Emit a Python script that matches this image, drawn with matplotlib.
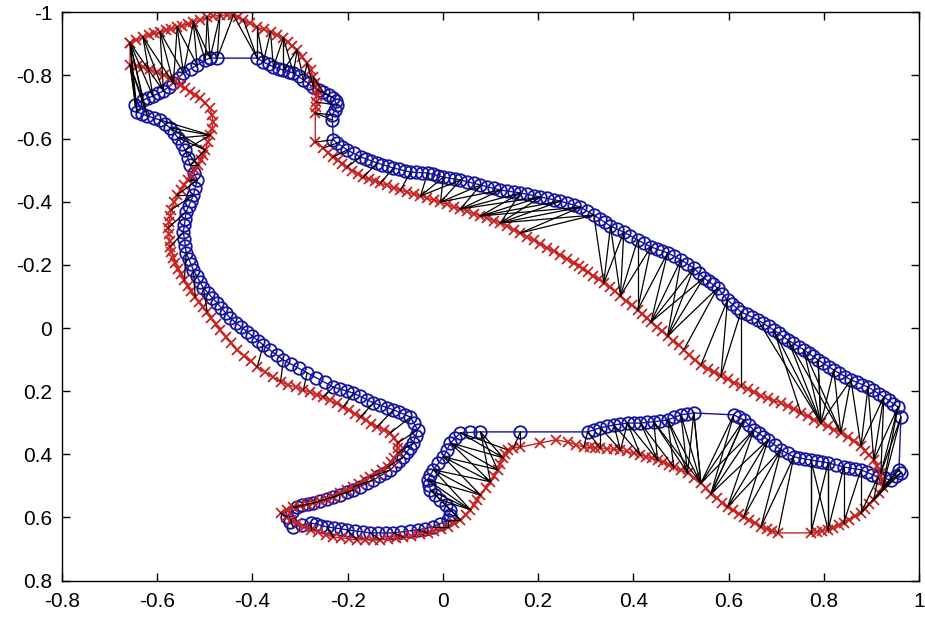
import matplotlib
matplotlib.use("Agg")
import matplotlib.pyplot as plt

# shape contour (blue circles), key points traced round the bird
blue_x = [-0.489, -0.474, -0.390, -0.377, -0.356, -0.335, -0.314, -0.293, -0.272, -0.251,
          -0.230, -0.222, -0.232, -0.232, -0.230, -0.222, -0.201, -0.173, -0.138, -0.104,
          -0.068, -0.032, 0.001, 0.037, 0.079, 0.121, 0.163, 0.205, 0.247, 0.289,
          0.317, 0.352, 0.380, 0.409, 0.437, 0.472, 0.500, 0.527, 0.548, 0.577,
          0.598, 0.626, 0.661, 0.695, 0.725, 0.758, 0.788, 0.821, 0.857, 0.893,
          0.926, 0.956, 0.962, 0.958, 0.962, 0.941, 0.914, 0.878, 0.842, 0.809,
          0.773, 0.737, 0.710, 0.683, 0.653, 0.632, 0.611, 0.527, 0.500, 0.472,
          0.443, 0.415, 0.388, 0.359, 0.331, 0.304, 0.163, 0.079, 0.037, 0.016,
          0.001, -0.020, -0.032, -0.026, -0.005, 0.016, 0.010, -0.020, -0.053, -0.104,
          -0.152, -0.201, -0.243, -0.278, -0.314, -0.327, -0.306, -0.272, -0.230, -0.188,
          -0.146, -0.110, -0.083, -0.062, -0.053, -0.068, -0.104, -0.146, -0.188, -0.230,
          -0.285, -0.335, -0.377, -0.411, -0.447, -0.474, -0.503, -0.524, -0.539, -0.545,
          -0.539, -0.524, -0.516, -0.531, -0.541, -0.556, -0.573, -0.594, -0.621, -0.642,
          -0.646, -0.630, -0.609, -0.587, -0.566, -0.545, -0.516, -0.499]
blue_y = [-0.855, -0.855, -0.855, -0.843, -0.827, -0.817, -0.808, -0.786, -0.763, -0.748,
          -0.729, -0.706, -0.675, -0.659, -0.596, -0.586, -0.564, -0.542, -0.523, -0.507,
          -0.494, -0.491, -0.478, -0.469, -0.453, -0.437, -0.428, -0.415, -0.402, -0.383,
          -0.358, -0.323, -0.304, -0.279, -0.257, -0.238, -0.216, -0.190, -0.159, -0.127,
          -0.089, -0.051, -0.026, 0.006, 0.038, 0.069, 0.101, 0.133, 0.164, 0.187,
          0.218, 0.250, 0.282, 0.449, 0.459, 0.481, 0.472, 0.449, 0.440, 0.427,
          0.418, 0.408, 0.386, 0.354, 0.323, 0.291, 0.275, 0.269, 0.275, 0.291,
          0.297, 0.301, 0.301, 0.307, 0.316, 0.329, 0.329, 0.329, 0.332, 0.364,
          0.408, 0.449, 0.481, 0.513, 0.544, 0.576, 0.608, 0.630, 0.639, 0.649,
          0.649, 0.639, 0.630, 0.617, 0.630, 0.598, 0.567, 0.554, 0.535, 0.513,
          0.481, 0.449, 0.408, 0.364, 0.323, 0.282, 0.259, 0.237, 0.206, 0.187,
          0.142, 0.101, 0.054, 0.012, -0.032, -0.079, -0.127, -0.184, -0.238, -0.304,
          -0.368, -0.421, -0.469, -0.516, -0.564, -0.602, -0.634, -0.659, -0.672, -0.684,
          -0.706, -0.722, -0.735, -0.751, -0.776, -0.808, -0.833, -0.849]

# the other sampled blue points lying on the same outline
blue_more_x = [-0.366, -0.345, -0.324, -0.303, -0.282, -0.261, -0.240, -0.225, -0.227,
               -0.211, -0.187, -0.161, -0.150, -0.127, -0.115, -0.092, -0.080, -0.056, -0.044,
               -0.021, -0.010, 0.013, 0.025, 0.051, 0.065, 0.093, 0.107, 0.135, 0.149,
               0.177, 0.191, 0.219, 0.233, 0.261, 0.275, 0.303, 0.329, 0.340, 0.366,
               0.394, 0.423, 0.449, 0.460, 0.486, 0.513, 0.537, 0.558, 0.567, 0.587,
               0.607, 0.617, 0.638, 0.649, 0.672, 0.684, 0.705, 0.715, 0.736, 0.747,
               0.768, 0.778, 0.799, 0.810, 0.833, 0.845, 0.869, 0.881, 0.904, 0.915,
               0.936, 0.946, 0.951, 0.928, 0.902, 0.890, 0.866, 0.854, 0.826, 0.797,
               0.785, 0.761, 0.749, 0.724, 0.697, 0.673, 0.663, 0.642, 0.621, 0.513,
               0.486, 0.457, 0.429, 0.401, 0.373, 0.345, 0.317, 0.058, 0.026, 0.008,
               -0.010, -0.026, -0.030, -0.016, 0.006, 0.014, -0.005, -0.037, -0.070, -0.087,
               -0.120, -0.136, -0.168, -0.185, -0.215, -0.229, -0.255, -0.266, -0.296, -0.322,
               -0.317, -0.295, -0.283, -0.258, -0.244, -0.216, -0.202, -0.174, -0.160, -0.134,
               -0.122, -0.101, -0.092, -0.076, -0.069, -0.057, -0.060, -0.080, -0.092, -0.118,
               -0.132, -0.160, -0.174, -0.202, -0.216, -0.248, -0.266, -0.302, -0.318, -0.349,
               -0.363, -0.388, -0.400, -0.423, -0.435, -0.456, -0.465, -0.484, -0.494, -0.510,
               -0.517, -0.529, -0.534, -0.541, -0.543, -0.543, -0.541, -0.534, -0.529, -0.520,
               -0.523, -0.536, -0.548, -0.564, -0.583, -0.607, -0.631, -0.619, -0.598, -0.576,
               -0.555, -0.530]
blue_more_y = [-0.835, -0.822, -0.812, -0.797, -0.775, -0.755, -0.738, -0.718, -0.690,
               -0.575, -0.553, -0.536, -0.529, -0.518, -0.512, -0.503, -0.498, -0.493, -0.492,
               -0.487, -0.482, -0.475, -0.472, -0.464, -0.458, -0.448, -0.442, -0.434, -0.431,
               -0.424, -0.419, -0.411, -0.406, -0.396, -0.389, -0.370, -0.346, -0.335, -0.313,
               -0.291, -0.268, -0.251, -0.244, -0.227, -0.203, -0.174, -0.148, -0.138, -0.108,
               -0.076, -0.064, -0.043, -0.034, -0.015, -0.005, 0.017, 0.027, 0.048, 0.059,
               0.080, 0.090, 0.112, 0.122, 0.143, 0.154, 0.172, 0.179, 0.197, 0.208,
               0.229, 0.240, 0.470, 0.476, 0.464, 0.457, 0.446, 0.443, 0.434, 0.424,
               0.421, 0.415, 0.411, 0.397, 0.370, 0.344, 0.333, 0.307, 0.283, 0.272,
               0.283, 0.294, 0.299, 0.301, 0.304, 0.311, 0.322, 0.328, 0.348, 0.386,
               0.429, 0.465, 0.497, 0.529, 0.560, 0.592, 0.620, 0.635, 0.642, 0.645,
               0.649, 0.649, 0.646, 0.642, 0.636, 0.633, 0.626, 0.621, 0.623, 0.614,
               0.582, 0.562, 0.558, 0.548, 0.541, 0.528, 0.520, 0.502, 0.492, 0.470,
               0.460, 0.435, 0.422, 0.393, 0.379, 0.343, 0.302, 0.274, 0.267, 0.252,
               0.244, 0.227, 0.216, 0.200, 0.193, 0.172, 0.157, 0.128, 0.115, 0.085,
               0.070, 0.040, 0.026, -0.003, -0.017, -0.048, -0.063, -0.095, -0.111, -0.146,
               -0.165, -0.202, -0.220, -0.260, -0.282, -0.325, -0.346, -0.386, -0.403, -0.445,
               -0.492, -0.540, -0.583, -0.618, -0.646, -0.665, -0.678, -0.728, -0.743, -0.763,
               -0.792, -0.820]

# target contour (red crosses), key points
red_x = [-0.657, -0.630, -0.594, -0.558, -0.524, -0.495, -0.468, -0.440, -0.419, -0.390,
         -0.362, -0.335, -0.306, -0.285, -0.272, -0.264, -0.266, -0.268, -0.268, -0.251,
         -0.230, -0.201, -0.167, -0.131, -0.089, -0.047, -0.005, 0.037, 0.079, 0.121,
         0.163, 0.205, 0.247, 0.275, 0.304, 0.338, 0.373, 0.409, 0.437, 0.472,
         0.506, 0.542, 0.584, 0.626, 0.668, 0.710, 0.752, 0.794, 0.836, 0.878,
         0.905, 0.920, 0.924, 0.905, 0.878, 0.842, 0.809, 0.773, 0.704, 0.668,
         0.632, 0.598, 0.563, 0.542, 0.514, 0.485, 0.451, 0.415, 0.373, 0.331,
         0.296, 0.262, 0.237, 0.205, 0.163, 0.148, 0.136, 0.127, 0.115, 0.100,
         0.079, 0.058, 0.037, 0.010, -0.032, -0.083, -0.131, -0.180, -0.230, -0.278,
         -0.320, -0.341, -0.314, -0.272, -0.230, -0.188, -0.152, -0.116, -0.095, -0.095,
         -0.110, -0.138, -0.173, -0.209, -0.251, -0.293, -0.341, -0.390, -0.432, -0.468,
         -0.495, -0.520, -0.543, -0.562, -0.573, -0.577, -0.571, -0.558, -0.535, -0.514,
         -0.499, -0.489, -0.482, -0.489, -0.510, -0.531, -0.552, -0.573, -0.600, -0.630,
         -0.657]
red_y = [-0.903, -0.922, -0.938, -0.953, -0.969, -0.985, -0.991, -0.991, -0.976, -0.953,
         -0.938, -0.919, -0.881, -0.839, -0.795, -0.754, -0.716, -0.681, -0.589, -0.570,
         -0.542, -0.510, -0.478, -0.459, -0.437, -0.418, -0.399, -0.377, -0.355, -0.333,
         -0.301, -0.266, -0.231, -0.206, -0.178, -0.143, -0.102, -0.057, -0.019, 0.025,
         0.069, 0.117, 0.152, 0.183, 0.215, 0.237, 0.269, 0.301, 0.332, 0.373,
         0.418, 0.459, 0.503, 0.544, 0.586, 0.617, 0.639, 0.649, 0.649, 0.630,
         0.598, 0.567, 0.525, 0.491, 0.459, 0.440, 0.418, 0.402, 0.386, 0.380,
         0.377, 0.361, 0.354, 0.364, 0.377, 0.380, 0.386, 0.411, 0.449, 0.487,
         0.529, 0.576, 0.608, 0.630, 0.649, 0.662, 0.671, 0.671, 0.662, 0.639,
         0.608, 0.586, 0.567, 0.554, 0.535, 0.503, 0.472, 0.440, 0.396, 0.364,
         0.332, 0.313, 0.282, 0.250, 0.218, 0.196, 0.171, 0.123, 0.069, 0.006,
         -0.051, -0.098, -0.152, -0.206, -0.257, -0.317, -0.374, -0.421, -0.469, -0.516,
         -0.564, -0.611, -0.653, -0.697, -0.729, -0.748, -0.770, -0.792, -0.811, -0.827,
         -0.833]

# the other sampled red points lying on the same outline
red_more_x = [-0.644, -0.618, -0.606, -0.582, -0.570, -0.547, -0.535, -0.510, -0.482, -0.454,
              -0.430, -0.405, -0.376, -0.349, -0.325, -0.316, -0.296, -0.278, -0.268, -0.265,
              -0.267, -0.241, -0.220, -0.211, -0.190, -0.178, -0.155, -0.143, -0.117, -0.103,
              -0.075, -0.061, -0.033, -0.019, 0.009, 0.023, 0.051, 0.065, 0.093, 0.107,
              0.135, 0.149, 0.177, 0.191, 0.219, 0.233, 0.261, 0.285, 0.294, 0.315,
              0.327, 0.350, 0.361, 0.385, 0.397, 0.418, 0.428, 0.449, 0.460, 0.483,
              0.495, 0.518, 0.530, 0.556, 0.570, 0.598, 0.612, 0.640, 0.654, 0.682,
              0.696, 0.724, 0.738, 0.766, 0.780, 0.808, 0.822, 0.850, 0.864, 0.887,
              0.896, 0.912, 0.922, 0.915, 0.896, 0.887, 0.866, 0.854, 0.831, 0.820,
              0.797, 0.785, 0.692, 0.680, 0.656, 0.644, 0.621, 0.609, 0.586, 0.575,
              0.553, 0.528, 0.500, 0.474, 0.462, 0.439, 0.427, 0.401, 0.387, 0.359,
              0.345, 0.319, 0.308, 0.279, 0.131, 0.121, 0.108, 0.090, 0.072, 0.065,
              0.048, 0.024, -0.004, -0.018, -0.049, -0.066, -0.099, -0.115, -0.147, -0.164,
              -0.197, -0.213, -0.246, -0.262, -0.292, -0.306, -0.330, -0.328, -0.300, -0.286,
              -0.258, -0.244, -0.216, -0.202, -0.176, -0.164, -0.140, -0.128, -0.109, -0.102,
              -0.095, -0.102, -0.124, -0.150, -0.161, -0.185, -0.197, -0.223, -0.237, -0.265,
              -0.279, -0.309, -0.325, -0.357, -0.374, -0.404, -0.418, -0.444, -0.456, -0.477,
              -0.486, -0.503, -0.512, -0.528, -0.535, -0.549, -0.556, -0.566, -0.570, -0.574,
              -0.576, -0.576, -0.573, -0.565, -0.550, -0.543, -0.528, -0.521, -0.509, -0.504,
              -0.494, -0.485, -0.485, -0.499, -0.520, -0.541, -0.562, -0.586, -0.615, -0.643]
red_more_y = [-0.913, -0.927, -0.933, -0.943, -0.948, -0.958, -0.964, -0.977, -0.988, -0.991,
              -0.984, -0.965, -0.946, -0.929, -0.907, -0.894, -0.860, -0.817, -0.775, -0.735,
              -0.699, -0.556, -0.531, -0.521, -0.499, -0.489, -0.472, -0.465, -0.452, -0.444,
              -0.431, -0.424, -0.412, -0.405, -0.392, -0.384, -0.370, -0.362, -0.348, -0.340,
              -0.322, -0.312, -0.289, -0.278, -0.254, -0.243, -0.218, -0.197, -0.187, -0.166,
              -0.155, -0.129, -0.116, -0.087, -0.072, -0.044, -0.032, -0.004, 0.010, 0.040,
              0.054, 0.085, 0.101, 0.129, 0.140, 0.162, 0.173, 0.194, 0.204, 0.222,
              0.230, 0.248, 0.258, 0.280, 0.290, 0.311, 0.322, 0.346, 0.359, 0.388,
              0.403, 0.438, 0.481, 0.524, 0.558, 0.572, 0.596, 0.607, 0.624, 0.632,
              0.643, 0.646, 0.643, 0.636, 0.619, 0.609, 0.588, 0.577, 0.553, 0.539,
              0.508, 0.475, 0.450, 0.433, 0.425, 0.413, 0.407, 0.397, 0.391, 0.384,
              0.382, 0.379, 0.378, 0.369, 0.398, 0.430, 0.468, 0.508, 0.545, 0.560,
              0.592, 0.619, 0.636, 0.643, 0.653, 0.658, 0.665, 0.668, 0.671, 0.671,
              0.668, 0.665, 0.654, 0.647, 0.629, 0.618, 0.597, 0.576, 0.563, 0.558,
              0.548, 0.541, 0.524, 0.514, 0.493, 0.482, 0.461, 0.451, 0.425, 0.411,
              0.380, 0.348, 0.322, 0.303, 0.292, 0.271, 0.261, 0.239, 0.229, 0.211,
              0.203, 0.188, 0.179, 0.155, 0.139, 0.105, 0.087, 0.048, 0.027, -0.013,
              -0.032, -0.067, -0.082, -0.116, -0.134, -0.170, -0.188, -0.223, -0.240, -0.277,
              -0.297, -0.336, -0.355, -0.398, -0.437, -0.453, -0.485, -0.500, -0.532, -0.548,
              -0.588, -0.632, -0.675, -0.713, -0.739, -0.759, -0.781, -0.802, -0.819, -0.830]

# matched point pairs: key index on the blue contour, key index on the red contour
match_blue = [128, 129, 130, 131, 131, 132, 133, 133, 134, 134, 135, 135, 136, 137, 0, 0, 1,
              2, 3, 4, 5, 6, 7, 8, 9, 10, 11, 12, 13, 14,
              15, 16, 17, 18, 19, 20, 21, 22, 23, 24, 25, 26, 27, 28, 29, 29, 30,
              30, 31, 32, 33, 34, 35, 36, 37, 38, 39, 40, 41,
              42, 43, 44, 45, 46, 47, 48, 49, 50, 51, 52,
              53, 54, 55, 56, 57, 58, 59, 60, 61, 61, 62, 63, 64,
              65, 65, 66, 67, 67, 68, 69, 70, 71, 72, 73, 74, 75,
              76, 76, 77, 77, 78, 79, 79, 80, 80, 81, 81, 82, 83, 84, 85,
              86, 87, 88, 89, 90, 91, 92, 93, 94, 95, 96, 97, 98, 99, 100,
              101, 102, 103, 104, 105, 106, 107, 108, 109, 110, 111, 112,
              116, 117, 118, 119, 120, 121, 122, 123, 124, 125, 126, 127,
              129, 130, 128, 132, 133, 134, 135, 136, 137, 0, 1, 2, 2, 3, 4, 5, 6, 7, 8,
              124, 125, 126, 123, 122, 121,
              22, 23, 24, 25, 26, 27, 28, 29, 30, 27, 26,
              31, 32, 33, 34, 35, 36, 37, 38, 39, 40, 41,
              43, 44, 45, 46, 47, 48, 48, 49, 50, 50, 51, 52, 51,
              53, 54, 55, 56, 57, 58, 59, 60, 59, 62, 62, 63, 63, 64, 64, 65, 66, 60,
              67, 68, 69, 70, 71, 72, 73, 74, 75, 72, 69, 70,
              77, 78, 79, 80, 81, 82, 83, 84, 86]
match_red = [130, 0, 0, 0, 130, 1, 1, 2, 2, 3, 3, 4, 4, 5, 5, 6, 7,
             8, 9, 10, 11, 11, 12, 13, 14, 15, 16, 17, 17, 18,
             19, 20, 21, 22, 23, 24, 25, 26, 26, 27, 27, 28, 28, 29, 29, 30, 30,
             35, 36, 36, 36, 37, 38, 38, 38, 39, 40, 42, 43,
             47, 47, 47, 47, 47, 48, 48, 49, 50, 51, 51,
             52, 52, 53, 53, 54, 55, 56, 57, 58, 59, 60, 61, 62,
             63, 62, 63, 63, 64, 64, 65, 66, 66, 67, 68, 69, 70,
             74, 75, 78, 79, 76, 77, 78, 78, 79, 79, 80, 80, 81, 81, 82,
             82, 83, 84, 85, 86, 87, 88, 89, 90, 91, 92, 92, 93, 94, 95,
             96, 97, 98, 99, 100, 101, 102, 103, 104, 105, 106, 107,
             110, 111, 112, 114, 115, 116, 118, 119, 119, 120, 120, 121,
             130, 130, 0, 0, 0, 1, 2, 3, 4, 4, 6, 7, 9, 10, 11, 12, 12, 13, 14,
             121, 121, 121, 120, 117, 117,
             25, 25, 26, 26, 27, 27, 28, 28, 29, 29, 29,
             35, 35, 37, 36, 37, 39, 39, 38, 39, 41, 42,
             46, 48, 48, 47, 47, 47, 49, 50, 49, 51, 50, 52, 52,
             53, 53, 54, 54, 55, 56, 57, 57, 56, 59, 61, 60, 62, 61, 63, 62, 62, 56,
             63, 63, 64, 64, 65, 66, 67, 68, 69, 68, 63, 63,
             77, 77, 79, 80, 81, 81, 82, 82, 83]

xticks = [-0.8, -0.6, -0.4, -0.2, 0, 0.2, 0.4, 0.6, 0.8, 1]
xtick_labels = ["-0.8", "-0.6", "-0.4", "-0.2", "0", "0.2", "0.4", "0.6", "0.8", "1"]
yticks = [-1, -0.8, -0.6, -0.4, -0.2, 0, 0.2, 0.4, 0.6, 0.8]
ytick_labels = ["-1", "-0.8", "-0.6", "-0.4", "-0.2", "0", "0.2", "0.4", "0.6", "0.8"]

BLUE = "#1414a0"
RED = "#c82222"

plt.rcParams["font.family"] = ["Liberation Sans", "DejaVu Sans"]

fig = plt.figure(figsize=(9.25, 6.17), dpi=100)
ax = fig.add_axes([0.067, 0.059, 0.9265, 0.921])

# closed outlines through the key points
ax.plot(blue_x + blue_x[:1], blue_y + blue_y[:1], color=BLUE, lw=1.0,
        marker="o", ms=9, mfc="none", mew=1.3, zorder=2)
ax.plot(blue_more_x, blue_more_y, ls="none", color=BLUE,
        marker="o", ms=9, mfc="none", mew=1.3, zorder=2)
ax.plot(red_x + red_x[:1], red_y + red_y[:1], color=RED, lw=1.0,
        marker="x", ms=6.5, mew=1.3, zorder=2)
ax.plot(red_more_x, red_more_y, ls="none", color=RED,
        marker="x", ms=6.5, mew=1.3, zorder=2)

# correspondence lines
for bi, ri in zip(match_blue, match_red):
    ax.plot([blue_x[bi], red_x[ri]], [blue_y[bi], red_y[ri]], color="black", lw=0.9, zorder=3)

ax.set_xlim(-0.8, 1)
ax.set_ylim(0.8, -1)
ax.set_xticks(xticks)
ax.set_xticklabels(xtick_labels)
ax.set_yticks(yticks)
ax.set_yticklabels(ytick_labels)
ax.tick_params(direction="in", length=6, width=1, labelsize=15, top=True, right=True)
ax.tick_params(axis="y", pad=7)
ax.tick_params(axis="x", pad=8)
for s in ax.spines.values():
    s.set_linewidth(1)

fig.savefig("out.png", dpi=100)
